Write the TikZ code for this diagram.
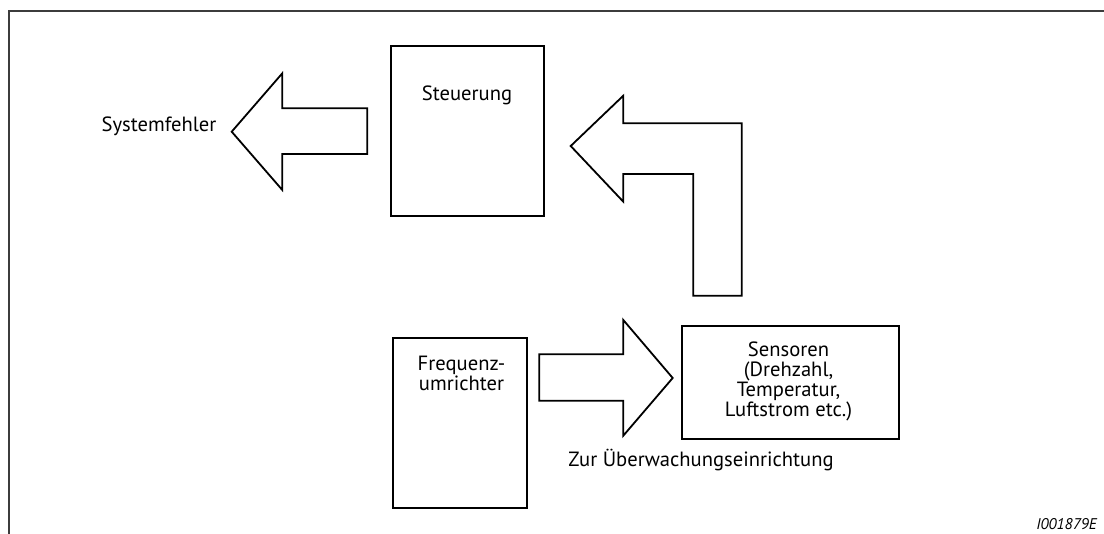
\documentclass[tikz,border=0pt]{standalone}
\usepackage{fontspec}
\setmainfont{PT Sans}
\begin{document}
\begin{tikzpicture}[x=1pt,y=-1pt,
  box/.style={draw=black, line width=1.8pt, inner sep=0pt},
  blockarrow/.style={draw=black, line width=1.8pt, line join=miter, fill=white},
  lbl/.style={font=\fontsize{20.6}{20}\selectfont, align=center, anchor=base, inner sep=0pt},
  framecol/.style={draw={rgb,255:red,60;green,60;blue,60}, line width=1.3pt}]
\useasboundingbox (0,0) rectangle (1104,534);
% frame
\draw[framecol] (1104,11) -- (9,11) -- (9,534);
% boxes
\node[box, minimum width=153.3pt, minimum height=169.7pt] (steu) at (467.35,130.85) {};
\node[box, minimum width=133.4pt, minimum height=170pt] (freq) at (460,423.3) {};
\node[box, minimum width=217pt, minimum height=113.6pt] (sens) at (790.2,382.5) {};
% labels (anchor base = baseline of last line)
\node[lbl] (steut) at (467,100.7) {Steuerung};
\node[lbl] (freqt) at (461.5,390.7) {Frequenz-\\umrichter};
\node[lbl] (senst) at (788.5,416.7) {Sensoren\\(Drehzahl,\\Temperatur,\\Luftstrom etc.)};
\node[lbl] (sysf) at (159,132) {Systemfehler};
\node[lbl] (zur) at (701,466.7) {Zur Überwachungseinrichtung};
\node[font=\fontsize{15.5}{16}\selectfont\itshape, anchor=base east, inner sep=0pt] (code) at (1097,530) {I001879E};
% block arrows
\draw[blockarrow] (231.7,131.7) -- (282.3,73.3) -- (282.3,108.3) -- (367.3,108.3) -- (367.3,154) -- (282.3,154) -- (282.3,190) -- cycle;
\draw[blockarrow] (570.7,146) -- (623.3,95.7) -- (623.3,123.3) -- (741.7,123.3) -- (741.7,295.7) -- (693.3,295.7) -- (693.3,174) -- (623.3,174) -- (623.3,201.7) -- cycle;
\draw[blockarrow] (539.3,354.3) -- (623.3,354.3) -- (623.3,320) -- (672.7,378) -- (623.3,435.7) -- (623.3,400.7) -- (539.3,400.7) -- cycle;
\end{tikzpicture}
\end{document}
